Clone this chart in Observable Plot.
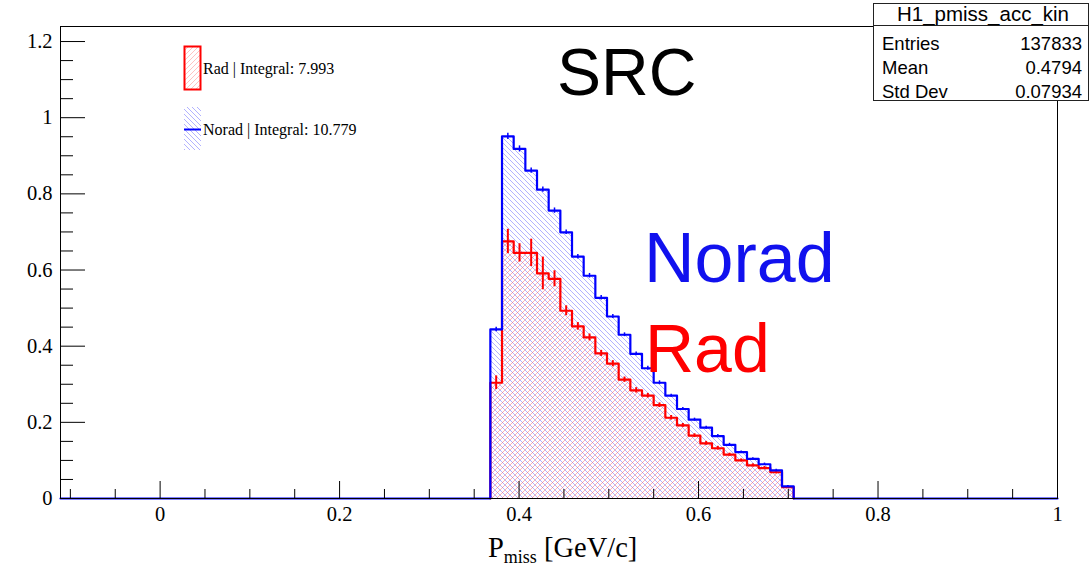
<!DOCTYPE html>
<html><head><meta charset="utf-8">
<script src="https://cdn.jsdelivr.net/npm/d3@7"></script>
<script src="https://cdn.jsdelivr.net/npm/@observablehq/plot@0.6"></script>
<style>
body{margin:0;background:#fff;}
#wrap{position:relative;width:1091px;height:566px;overflow:hidden;background:#fff;}
#wrap svg{position:absolute;left:0;top:0;}
</style></head><body><div id="wrap"></div>
<script>
// ---- data ----
const binEdges = [0.368,0.381,0.394,0.407,0.420,0.433,0.446,0.459,0.472,0.485,0.498,0.511,0.524,0.537,0.550,0.563,0.576,0.589,0.602,0.615,0.628,0.641,0.654,0.667,0.680,0.693,0.706];
const norad    = [0.444,0.951,0.918,0.861,0.811,0.756,0.699,0.635,0.585,0.527,0.478,0.430,0.380,0.342,0.304,0.270,0.235,0.207,0.186,0.164,0.141,0.122,0.104,0.090,0.074,0.032];
const noradErr = [0.006,0.008,0.008,0.007,0.007,0.007,0.006,0.006,0.006,0.006,0.005,0.005,0.005,0.005,0.005,0.004,0.004,0.004,0.004,0.004,0.004,0.003,0.003,0.003,0.003,0.002];
const rad      = [0.304,0.675,0.645,0.645,0.591,0.577,0.493,0.452,0.423,0.381,0.354,0.312,0.284,0.270,0.245,0.212,0.192,0.165,0.145,0.132,0.115,0.100,0.087,0.080,0.069,0.030];
const radErr   = [0.018,0.032,0.024,0.036,0.043,0.021,0.013,0.010,0.009,0.008,0.008,0.007,0.007,0.006,0.006,0.006,0.005,0.005,0.005,0.005,0.004,0.004,0.004,0.004,0.004,0.003];
const xMajor = [0,0.2,0.4,0.6,0.8,1];
const xMinor = [-0.1,-0.05,0.05,0.1,0.15,0.25,0.3,0.35,0.45,0.5,0.55,0.65,0.7,0.75,0.85,0.9,0.95];
const yMajor = [0,0.2,0.4,0.6,0.8,1,1.2];
const yMinor = [0.05,0.1,0.15,0.25,0.3,0.35,0.45,0.5,0.55,0.65,0.7,0.75,0.85,0.9,0.95,1.05,1.1,1.15];
const xDomain = [-0.111, 1.0];
const yDomain = [0, 1.2395];
const legendLabels = ["Rad | Integral: 7.993", "Norad | Integral: 10.779"];
const statsTitle = "H1_pmiss_acc_kin";
const statsNames = ["Entries", "Mean", "Std Dev"];
const statsValues = ["137833", "0.4794", "0.07934"];
const bigLabels = ["SRC", "Norad", "Rad"];

// ---- build ----
const W = 1091, H = 566, mL = 60, mR = 34, mT = 26, mB = 68;
const iw = W - mL - mR, ih = H - mT - mB;
const mk = (vals, errs) => vals.map((v, i) => ({x1: binEdges[i], x2: binEdges[i + 1], y: v, e: errs[i]}));
const noradBins = mk(norad, noradErr);
const radBins = mk(rad, radErr);
const last = binEdges[binEdges.length - 1];
const noradOutline = [[xDomain[0], 0], ...noradBins.map(b => [b.x1, b.y]), [last, 0], [xDomain[1], 0]];
const radOutline = [[binEdges[0], 0], ...radBins.map(b => [b.x1, b.y]), [last, 0]];
const fmt = d => String(d);

const plot = Plot.plot({
  width: W, height: H, marginLeft: mL, marginRight: mR, marginTop: mT, marginBottom: mB,
  x: {domain: xDomain}, y: {domain: yDomain},
  style: {fontFamily: "'Liberation Serif', 'Times New Roman', serif", fontSize: "20.5px", color: "black", background: "transparent"},
  marks: [
    Plot.rect(noradBins, {x1: "x1", x2: "x2", y1: 0, y2: "y", fill: "url(#hatchBlue)"}),
    Plot.rect(radBins, {x1: "x1", x2: "x2", y1: 0, y2: "y", fill: "url(#hatchRed)"}),
    Plot.line(radOutline, {x: d => d[0], y: d => d[1], curve: "step-after", stroke: "#ff0000", strokeWidth: 2.2}),
    Plot.ruleX(radBins, {x: d => (d.x1 + d.x2) / 2, y1: d => d.y - d.e, y2: d => d.y + d.e, stroke: "#ff0000", strokeWidth: 2}),
    Plot.line(noradOutline, {x: d => d[0], y: d => d[1], curve: "step-after", stroke: "#0000ff", strokeWidth: 2.2}),
    Plot.ruleX(noradBins, {x: d => (d.x1 + d.x2) / 2, y1: d => d.y - d.e, y2: d => d.y + d.e, stroke: "#0000ff", strokeWidth: 1.5}),
    Plot.tickX(xMajor, {x: d => d, insetTop: ih - 17, stroke: "black"}),
    Plot.tickX(xMinor, {x: d => d, insetTop: ih - 9, stroke: "black"}),
    Plot.tickY(yMajor, {y: d => d, insetRight: iw - 25, stroke: "black"}),
    Plot.tickY(yMinor, {y: d => d, insetRight: iw - 13, stroke: "black"}),
    Plot.axisX(xMajor, {tickSize: 0, tickPadding: 8, tickFormat: fmt, label: null}),
    Plot.axisY(yMajor, {tickSize: 0, tickPadding: 8, tickFormat: fmt, label: null}),
    Plot.frame({stroke: "black"})
  ]
});
const wrap = document.getElementById("wrap");
wrap.appendChild(plot);

// ---- overlay: patterns, annotations, legend, stats box, axis title ----
const ov = d3.select(wrap).append("svg").attr("width", W).attr("height", H)
  .style("pointer-events", "none");
const defs = ov.append("defs");
function hatch(id, color, dir, opacity) {
  const p = defs.append("pattern").attr("id", id).attr("patternUnits", "userSpaceOnUse")
    .attr("width", 5).attr("height", 5);
  const path = dir === "back" ? "M-1,-1L6,6M-1,4L1,6M4,-1L6,1" : "M-1,6L6,-1M-1,1L1,-1M4,6L6,4";
  p.append("path").attr("d", path).attr("stroke", color).attr("stroke-width", 0.9).attr("stroke-opacity", opacity).attr("fill", "none");
}
hatch("hatchBlue", "#5555ff", "back", 0.5);
hatch("hatchRed", "#ff5555", "fwd", 0.5);
hatch("hatchRedL", "#ff7777", "fwd", 0.5);

const sans = "'Liberation Sans', Arial, Helvetica, sans-serif";
const serif = "'Liberation Serif', 'Times New Roman', serif";
ov.append("text").attr("x", 557).attr("y", 95).attr("font-family", sans).attr("font-size", 66).attr("fill", "black").text(bigLabels[0]);
ov.append("text").attr("x", 644).attr("y", 281.5).attr("font-family", sans).attr("font-size", 70).attr("fill", "#1111ee").text(bigLabels[1]);
ov.append("text").attr("x", 645).attr("y", 371.5).attr("font-family", sans).attr("font-size", 68).attr("fill", "#ff0000").text(bigLabels[2]);

// legend
ov.append("rect").attr("x", 184.5).attr("y", 46.5).attr("width", 16).attr("height", 43)
  .attr("fill", "url(#hatchRedL)").attr("stroke", "#ff0000").attr("stroke-width", 2);
ov.append("text").attr("x", 203).attr("y", 74).attr("font-family", serif).attr("font-size", 16).text(legendLabels[0]);
ov.append("rect").attr("x", 184).attr("y", 107).attr("width", 17).attr("height", 43).attr("fill", "url(#hatchBlue)");
ov.append("line").attr("x1", 184).attr("x2", 201).attr("y1", 129.5).attr("y2", 129.5).attr("stroke", "#0000ff").attr("stroke-width", 2);
ov.append("text").attr("x", 203).attr("y", 134.5).attr("font-family", serif).attr("font-size", 16).text(legendLabels[1]);

// stats box
ov.append("rect").attr("x", 873.5).attr("y", 3.5).attr("width", 215).attr("height", 97)
  .attr("fill", "white").attr("stroke", "#222").attr("stroke-width", 1);
ov.append("line").attr("x1", 873.5).attr("x2", 1088.5).attr("y1", 25.5).attr("y2", 25.5).attr("stroke", "#222");
ov.append("text").attr("x", 983).attr("y", 21).attr("text-anchor", "middle").attr("font-family", sans).attr("font-size", 20.5).text(statsTitle);
statsNames.forEach((n, i) => {
  const y = 49.5 + i * 24;
  ov.append("text").attr("x", 882).attr("y", y).attr("font-family", sans).attr("font-size", 18.5).text(n);
  ov.append("text").attr("x", 1082).attr("y", y).attr("text-anchor", "end").attr("font-family", sans).attr("font-size", 18.5).text(statsValues[i]);
});

// x axis title
const t = ov.append("text").attr("x", 488).attr("y", 557).attr("font-family", serif).attr("font-size", 28.5);
t.append("tspan").text("P");
t.append("tspan").attr("font-size", 18).attr("dy", 6).text("miss");
t.append("tspan").attr("dy", -6).text(" [GeV/c]");
</script></body></html>
